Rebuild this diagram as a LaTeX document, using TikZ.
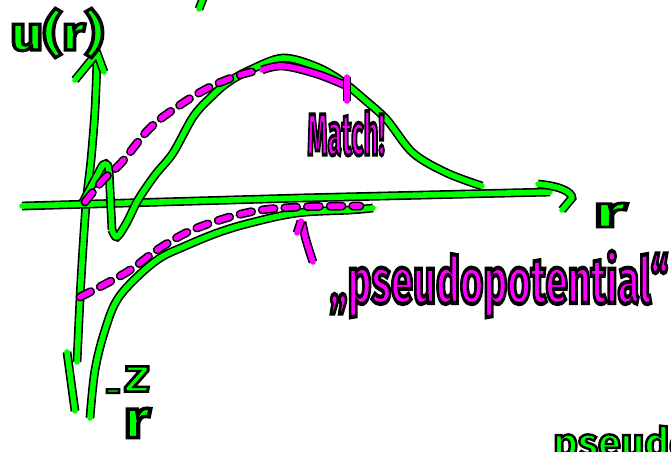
\documentclass[tikz,border=0pt]{standalone}
\usepackage{fontspec}
\usepackage{graphicx}
\newfontfamily\handfont{Fira Sans}
\usetikzlibrary{positioning}

\definecolor{penGreen}{RGB}{0,255,0}
\definecolor{penPink}{RGB}{255,0,255}
\newcommand{\inked}[1]{\special{pdf:literal direct 0 0 0 RG 1.8 w 2 Tr}#1\special{pdf:literal direct 0 Tr}}

\begin{document}
\begin{tikzpicture}[
			x=0.75pt, y=-0.75pt,
			% Gaya untuk goresan pena
			greenline/.style={
				preaction={draw=black, line width=6.6pt},
				draw=penGreen,
				line width=4.2pt,
				line cap=round,
				line join=round
			},
			pinkline/.style={
				preaction={draw=black, line width=6.6pt},
				draw=penPink,
				line width=4.2pt,
				line cap=round,
				line join=round
			},
			pinkdash/.style={
				preaction={draw=black, line width=6.6pt, line cap=round, dash pattern=on 9pt off 8pt},
				draw=penPink,
				line width=4.2pt,
				line cap=round,
				dash pattern=on 9pt off 8pt
			},
			% Gaya untuk tulisan tangan
			hand/.style={
				font=\handfont\bfseries\fontsize{28pt}{32pt}\selectfont,
				text=penGreen,
				inner sep=0pt
			},
			handpink/.style={
				hand,
				text=penPink
			}
			]
			
			% Bingkai gambar
			\useasboundingbox (0,0) rectangle (671,451);
			\clip (0,0) rectangle (671,451);
			
			% Sumbu vertikal dan horizontal
			\draw[greenline] plot[smooth, tension=0.5] coordinates {(97,60) (95,110) (91,160) (86,205) (81,280) (77,362)};
			\draw[greenline] (75,80) -- (97,53) -- (104,72);
			\draw[greenline] (67,352) -- (75,411);
			\draw[greenline] (22,206) -- (300,198) -- (550,192);
			\draw[greenline] (538,184) .. controls (560,186) and (572,192) .. (572,198) -- (562,210);
			\draw[greenline] (204,-4) -- (199,9);
			
			% Potensial sebenarnya dan -Z/r
			\draw[greenline] (83,202) -- (101,168) .. controls (104,162) and (108,162) .. (109,170) -- (112,230);
			\draw[greenline] plot[smooth, tension=0.55] coordinates {(112,230) (117,237) (127,222) (138,200) (155,175) (173,153) (193,117) (210,98) (227,83) (250,70) (283,58) (317,67) (343,82) (365,100) (387,120) (413,153) (447,173) (482,186)};
			\draw[greenline] plot[smooth, tension=0.6] coordinates {(90,418) (95,370) (105,330) (117,300) (137,277) (160,258) (183,247) (217,233) (250,223) (297,213) (350,210) (373,208)};
			
			% Pseudopotensial (garis putus-putus)
			\draw[pinkdash] plot[smooth, tension=0.6] coordinates {(85,202) (103,180) (122,162) (150,128) (180,105) (210,87) (240,75) (256,71)};
			\draw[pinkline] plot[smooth, tension=0.6] coordinates {(262,70) (283,66) (317,74) (347,86)};
			\draw[pinkline] (347,77) -- (347,101);
			\draw[pinkdash] plot[smooth, tension=0.6] coordinates {(80,297) (127,272) (160,248) (197,228) (250,212) (300,207) (360,206)};
			
			% Label-label
			\node[hand] (uLabel) at (57,33) {\resizebox*{70pt}{37pt}{\inked{u(r)}}};
			\node[hand] (rLabel) at (610,215) {\resizebox*{25pt}{18pt}{\inked{r}}};
			\node[hand] (zNum) at (137,379) {\resizebox*{19pt}{19pt}{\inked{Z}}};
			\node[hand, below=12pt of zNum] (zDen) {\resizebox*{20pt}{22pt}{\inked{r}}};
			\node[hand, font=\handfont\bfseries\fontsize{22pt}{26pt}\selectfont] (zMinus) at (113,395) {\inked{−}};
			\node[handpink] (matchLabel) at (346,133) {\resizebox*{58pt}{34pt}{\inked{Match!}}};
			\node[handpink] (pseudoLabel) at (499,284) {\resizebox*{254pt}{50pt}{\inked{„pseudopotential“}}};
			\node[hand, anchor=base west, font=\handfont\bfseries\fontsize{31pt}{36pt}\selectfont] (pseudoNote) at (553,457) {\inked{pseudo}};
			
			% Panah ke pseudopotensial
			\draw[pinkline] plot[smooth, tension=0.6] coordinates {(313,262) (306,240) (302,222)};
			\draw[pinkline] (297,233) -- (301,221);
			
		\end{tikzpicture}
\end{document}
